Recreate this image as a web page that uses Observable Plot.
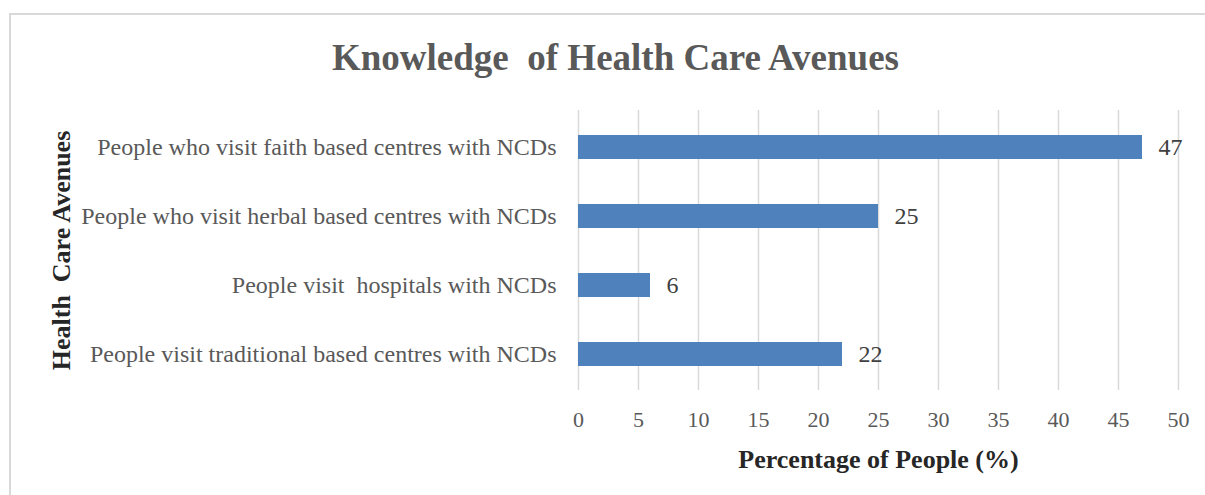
<!DOCTYPE html>
<html><head><meta charset="utf-8">
<script src="https://cdn.jsdelivr.net/npm/d3@7"></script>
<script src="https://cdn.jsdelivr.net/npm/@observablehq/plot@0.6"></script>
<style>
html,body{margin:0;padding:0;background:#fff;}
#wrap{position:relative;width:1205px;height:495px;overflow:hidden;}
#border{position:absolute;left:9px;top:13px;width:1220px;height:500px;border-top:2px solid #d9d9d9;border-left:2px solid #d9d9d9;box-sizing:border-box;}
#chart{position:absolute;left:0;top:0;}
svg text{white-space:pre;}
</style></head><body>
<div id="wrap"><div id="border"></div><div id="chart"></div></div>
<script>
const categories = [
  "People who visit faith based centres with NCDs",
  "People who visit herbal based centres with NCDs",
  "People visit  hospitals with NCDs",
  "People visit traditional based centres with NCDs"
];
const values = [47, 25, 6, 22];
const xTicks = [0, 5, 10, 15, 20, 25, 30, 35, 40, 45, 50];
const title = "Knowledge  of Health Care Avenues";
const xLabel = "Percentage of People (%)";
const yLabel = "Health  Care Avenues";

const data = categories.map((c, i) => ({category: c, value: values[i]}));
const FONT = "'Liberation Serif', 'Times New Roman', serif";

const chart = Plot.plot({
  width: 1205, height: 495,
  marginTop: 110, marginBottom: 105, marginLeft: 578, marginRight: 27,
  style: {fontFamily: FONT, background: "transparent", overflow: "visible"},
  x: {domain: [0, 50]},
  y: {domain: categories, paddingInner: 0.657, paddingOuter: 0.3286},
  marks: [
    Plot.ruleX(xTicks, {stroke: "#d9d9d9", strokeWidth: 1.5}),
    Plot.barX(data, {x: "value", y: "category", fill: "#4F81BD"}),
    Plot.text(data, {x: "value", y: "category", text: d => String(d.value), dx: 16, textAnchor: "start", fontSize: 24, fill: "#404040"}),
    Plot.axisX({ticks: xTicks, tickSize: 0, tickPadding: 21, fontSize: 22, fill: "#595959", label: null}),
    Plot.axisY({tickSize: 0, tickPadding: 22, fontSize: 24, fill: "#595959", label: null}),
    Plot.text([title], {text: d => d, frameAnchor: "top", dx: -263, dy: -41, lineAnchor: "bottom", fontSize: 37, fontWeight: "bold", fill: "#595959"}),
    Plot.text([xLabel], {text: d => d, frameAnchor: "bottom", dx: 0, dy: 77, lineAnchor: "bottom", fontSize: 26, fontWeight: "bold", fill: "#262626"}),
    Plot.text([yLabel], {text: d => d, frameAnchor: "left", dx: -509, dy: 0, rotate: -90, lineAnchor: "bottom", textAnchor: "middle", fontSize: 26, fontWeight: "bold", fill: "#262626"})
  ]
});
document.getElementById("chart").appendChild(chart);
</script>
</body></html>
